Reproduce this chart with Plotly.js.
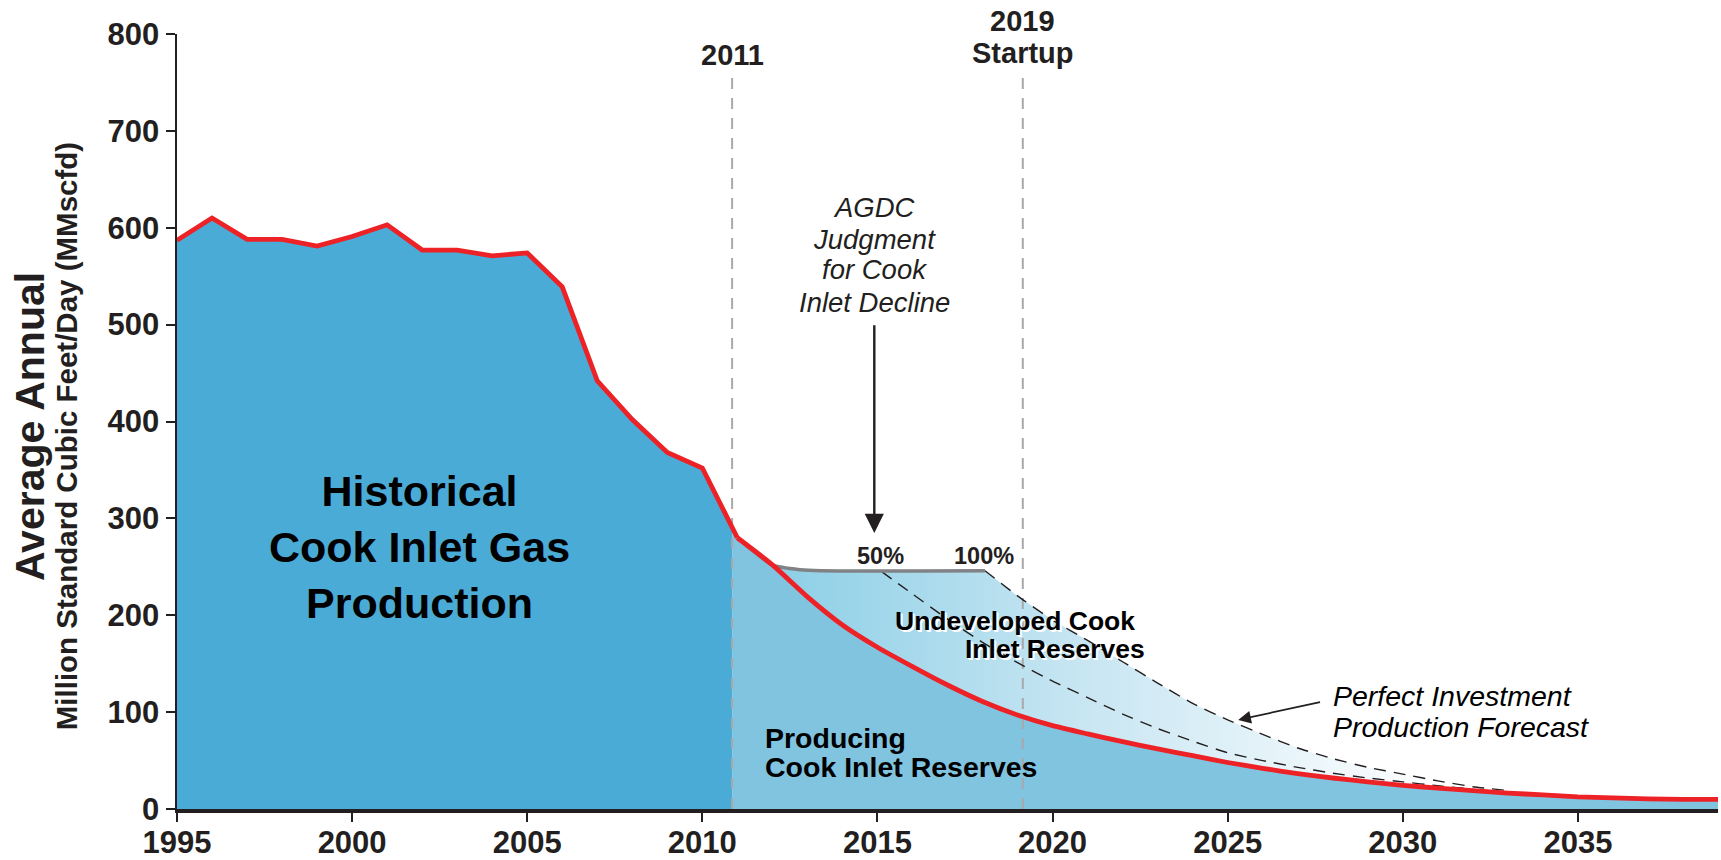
<!DOCTYPE html>
<html>
<head>
<meta charset="utf-8">
<script src="https://cdn.plot.ly/plotly-3.0.1.min.js"></script>
<style>
html,body{margin:0;padding:0;background:#ffffff;}
#chart{width:1721px;height:860px;}
</style>
</head>
<body>
<div id="chart"></div>
<script>
// ---------------- DATA ----------------
const histYears  = [1995,1996,1997,1998,1999,2000,2001,2002,2003,2004,2005,2006,2007,2008,2009,2010,2011];
const histValues = [587, 610, 588, 588, 581, 591, 603, 577, 577, 571, 574, 539, 442, 402, 368, 352, 280];

const forecastYears   = [2011,2012,2013,2014,2015,2016,2017,2018,2019,2020,2021,2022,2023,2024,2025,2026,2027,2028,2029,2030,2031,2032,2033,2034,2035,2036,2037,2038,2039];
const producingValues = [280, 252, 219, 190, 167, 147, 128, 111, 97,  86,  77.5,69.5,62,  55,  48,  42,  36.5,32,  28,  24.5,21.5,19,  16.5,14.5,12.5,11.5,10.5,10,  10];

const judgmentYears  = [2011, 2012, 2012.8, 2013.4, 2018.07];
const judgmentValues = [280,  252,  247,    246,    246];

const full100Years  = [2018.07,2019,2020,2021,2022,2023,2024,2025,2026,2027,2028,2029,2030,2031,2032,2033];
const full100Values = [246,    220, 195, 174, 152, 130, 109, 92,  77,  63,  52,  43,  36,  29,  23,  19];

const half50Years  = [2015.12,2016,2017,2018,2019,2020,2021,2022,2023,2024,2025,2026,2027,2028,2029,2030,2031,2032];
const half50Values = [245,    222, 196, 172, 151, 132, 115, 98,  83,  70,  58,  50,  43,  37,  32,  28,  24,  20.5];

const eventYears  = [2010.85, 2019.15];
const eventTop    = 757;

// ---------------- HELPERS ----------------
function interpAt(xs, ys, x) {
  for (let i = 0; i < xs.length - 1; i++) {
    if (x >= xs[i] && x <= xs[i+1]) {
      const t = (x - xs[i]) / (xs[i+1] - xs[i]);
      return ys[i] + t * (ys[i+1] - ys[i]);
    }
  }
  return ys[ys.length - 1];
}
const split = eventYears[0];
const splitVal = interpAt(histYears, histValues, split);

const histFillX = histYears.filter(y => y < split).concat([split]);
const histFillY = histValues.filter((v, i) => histYears[i] < split).concat([splitVal]);

const prodFillX = [split].concat(forecastYears);
const prodFillY = [splitVal].concat(producingValues);

const topX = judgmentYears.concat(full100Years.slice(1));
const topY = judgmentValues.concat(full100Values.slice(1));
const lastTop = topX[topX.length - 1];
const botX = [], botY = [];
forecastYears.forEach((yr, i) => { if (yr <= lastTop) { botX.push(yr); botY.push(producingValues[i]); } });
const undevX = topX.concat([lastTop], botX.slice().reverse());
const undevY = topY.concat([interpAt(forecastYears, producingValues, lastTop)], botY.slice().reverse());

// ---------------- STYLE ----------------
const FONT = 'Liberation Sans, Arial, Helvetica, sans-serif';
const INK = '#231f20';
const RED = '#ec2227';

const traces = [
  { x: histFillX, y: histFillY, type: 'scatter', mode: 'lines', fill: 'tozeroy',
    fillcolor: '#4babd7', line: {width: 0}, hoverinfo: 'skip', showlegend: false },
  { x: prodFillX, y: prodFillY, type: 'scatter', mode: 'lines', fill: 'tozeroy',
    fillcolor: '#81c4e0', line: {width: 0, shape: 'spline', smoothing: 0.6}, hoverinfo: 'skip', showlegend: false },
  { x: undevX, y: undevY, type: 'scatter', mode: 'lines', fill: 'toself',
    fillgradient: {type: 'horizontal', start: 2012, stop: 2031,
      colorscale: [[0, '#8ccfe6'], [0.45, '#c6e5f2'], [1, '#ffffff']]},
    line: {width: 0}, hoverinfo: 'skip', showlegend: false },
  ...eventYears.map(ev => ({ x: [ev, ev], y: [0, eventTop], type: 'scatter', mode: 'lines',
    line: {color: '#a7a9ac', width: 2, dash: '11px,9px'}, hoverinfo: 'skip', showlegend: false })),
  { x: half50Years, y: half50Values, type: 'scatter', mode: 'lines',
    line: {color: INK, width: 1.4, dash: '12px,8px', shape: 'spline', smoothing: 0.5}, hoverinfo: 'skip', showlegend: false },
  { x: full100Years, y: full100Values, type: 'scatter', mode: 'lines',
    line: {color: INK, width: 1.4, dash: '12px,8px', shape: 'spline', smoothing: 0.5}, hoverinfo: 'skip', showlegend: false },
  { x: judgmentYears, y: judgmentValues, type: 'scatter', mode: 'lines',
    line: {color: '#808285', width: 3.5, shape: 'spline', smoothing: 0.6}, hoverinfo: 'skip', showlegend: false },
  { x: histYears, y: histValues, type: 'scatter', mode: 'lines',
    line: {color: RED, width: 4.8}, hoverinfo: 'skip', showlegend: false },
  { x: forecastYears, y: producingValues, type: 'scatter', mode: 'lines',
    line: {color: RED, width: 4.8, shape: 'spline', smoothing: 0.6}, hoverinfo: 'skip', showlegend: false }
];

function txt(text, x, y, size, opts, fontExtra) {
  return Object.assign({
    text: text, x: x, y: y, xref: 'x', yref: 'y', showarrow: false,
    xanchor: 'center', yanchor: 'middle',
    font: Object.assign({family: FONT, size: size, color: INK, weight: 'bold'}, fontExtra || {})
  }, opts || {});
}
const halo = '2px 2px 0px #ffffff, 1px 1px 0px #ffffff';
const ital = {weight: 'normal', style: 'italic'};

const annotations = [
  // y-axis titles
  { text: 'Average Annual', xref: 'paper', yref: 'paper', x: -0.0955, y: 0.494, textangle: -90,
    showarrow: false, xanchor: 'center', yanchor: 'middle',
    font: {family: FONT, size: 41, color: INK, weight: 'bold'} },
  { text: 'Million Standard Cubic Feet/Day (MMscfd)', xref: 'paper', yref: 'paper', x: -0.072, y: 0.481, textangle: -90,
    showarrow: false, xanchor: 'center', yanchor: 'middle',
    font: {family: FONT, size: 29.5, color: INK, weight: 'bold'} },
  // event labels
  txt('2011', eventYears[0], 778, 29),
  txt('2019', eventYears[1], 1.0168, 29, {yref: 'paper'}),
  txt('Startup', eventYears[1], 780, 29),
  // region labels
  txt('Historical<br>Cook Inlet Gas<br>Production', 2001.92, 270, 43, {}, {color: '#000000'}),
  txt('Producing', 2011.72, 73.3, 28.5, {xanchor: 'left'}, {color: '#000000'}),
  txt('Cook Inlet Reserves', 2011.72, 43.7, 28.5, {xanchor: 'left'}, {color: '#000000'}),
  txt('Undeveloped Cook', 2015.45, 194, 26.5, {xanchor: 'left'}, {color: '#000000', shadow: halo}),
  txt('Inlet Reserves', 2017.45, 165, 26.5, {xanchor: 'left'}, {color: '#000000', shadow: halo}),
  txt('50%', 2015.09, 261, 23.5),
  txt('100%', 2018.04, 261, 23.5),
  // AGDC judgment
  txt('AGDC', 2014.91, 621, 27.5, {}, ital),
  txt('Judgment', 2014.91, 588, 27.5, {}, ital),
  txt('for Cook', 2014.91, 557, 27.5, {}, ital),
  txt('Inlet Decline', 2014.91, 523, 27.5, {}, ital),
  { text: '', x: 2014.91, y: 285, ax: 2014.91, ay: 501, xref: 'x', yref: 'y', axref: 'x', ayref: 'y',
    showarrow: true, arrowhead: 2, arrowsize: 1.6, arrowwidth: 2.4, arrowcolor: INK },
  // perfect investment
  txt('Perfect Investment', 2027.95, 116.8, 28.5, {xanchor: 'left'}, Object.assign({color: '#000000'}, ital)),
  txt('Production Forecast', 2027.95, 85, 28.5, {xanchor: 'left'}, Object.assign({color: '#000000'}, ital)),
  { text: '', x: 2025.3, y: 92, ax: 2027.68, ay: 110.7, xref: 'x', yref: 'y', axref: 'x', ayref: 'y',
    showarrow: true, arrowhead: 2, arrowsize: 1.5, arrowwidth: 1.7, arrowcolor: INK }
];

const layout = {
  width: 1721, height: 860,
  margin: {l: 177, r: 3, t: 34, b: 51},
  paper_bgcolor: '#ffffff', plot_bgcolor: '#ffffff',
  showlegend: false,
  xaxis: {
    range: [1995, 2039], dtick: 5, tick0: 1995, showgrid: false, zeroline: false,
    showline: true, linecolor: INK, linewidth: 3.5,
    ticks: 'outside', ticklen: 9, tickwidth: 2, tickcolor: INK,
    ticklabelstandoff: -6,
    tickfont: {family: FONT, size: 31, color: INK, weight: 'bold'}
  },
  yaxis: {
    range: [0, 800], dtick: 100, showgrid: false, zeroline: false,
    showline: true, linecolor: INK, linewidth: 2.5,
    ticks: 'outside', ticklen: 9, tickwidth: 2, tickcolor: INK,
    tickfont: {family: FONT, size: 31, color: INK, weight: 'bold'}
  },
  annotations: annotations
};

Plotly.newPlot('chart', traces, layout, {staticPlot: true, displayModeBar: false});
</script>
</body>
</html>
